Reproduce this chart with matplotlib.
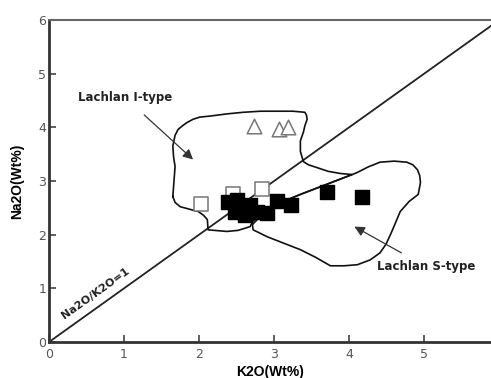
import matplotlib
matplotlib.use("Agg")
import matplotlib.pyplot as plt
import numpy as np

# open squares / triangles (I-type like samples), filled squares
open_sq_x = [2.03, 2.45, 2.84]
open_sq_y = [2.58, 2.75, 2.86]
tri_x = [2.73, 3.07, 3.19]
tri_y = [4.02, 3.96, 4.00]
fill_sq_x = [2.39, 2.51, 2.48, 2.55, 2.61, 2.68, 2.77, 2.91, 3.04, 3.23, 3.71, 4.17]
fill_sq_y = [2.60, 2.65, 2.43, 2.52, 2.37, 2.56, 2.43, 2.41, 2.62, 2.56, 2.80, 2.71]

itype_x = [1.65, 1.68, 1.66, 1.65, 1.68, 1.72, 1.78, 1.84, 1.92, 2.01, 2.15, 2.37, 2.59,
           2.82, 3.04, 3.25, 3.41, 3.43, 3.44, 3.41, 3.39, 3.35, 3.35, 3.39, 3.46, 3.57,
           3.72, 3.88, 4.04, 3.35, 2.95, 2.71, 2.68, 2.52, 2.37, 2.12, 2.11, 2.06, 1.99,
           1.75, 1.68, 1.65]
itype_y = [2.71, 3.27, 3.45, 3.65, 3.85, 3.96, 4.03, 4.09, 4.15, 4.19, 4.21, 4.25, 4.28,
           4.30, 4.30, 4.30, 4.28, 4.23, 4.15, 4.03, 3.91, 3.75, 3.55, 3.36, 3.30, 3.25,
           3.18, 3.14, 3.12, 2.75, 2.52, 2.24, 2.15, 2.08, 2.06, 2.09, 2.28, 2.36, 2.43,
           2.52, 2.60, 2.71]
stype_x = [2.71, 2.72, 2.91, 3.35, 3.55, 3.75, 3.93, 4.11, 4.28, 4.41, 4.49, 4.55, 4.62,
           4.68, 4.80, 4.92, 4.95, 4.94, 4.91, 4.85, 4.77, 4.60, 4.41, 4.25, 4.11, 4.04,
           3.35, 2.95, 2.71]
stype_y = [2.19, 2.09, 1.96, 1.72, 1.58, 1.42, 1.42, 1.44, 1.53, 1.66, 1.82, 2.00, 2.23,
           2.43, 2.62, 2.75, 2.97, 3.10, 3.21, 3.30, 3.35, 3.37, 3.35, 3.26, 3.16, 3.12,
           2.75, 2.52, 2.19]

fig = plt.figure(figsize=(4.91, 3.78), dpi=100)
ax = fig.add_axes([0.0998, 0.0952, 0.9002, 0.852])

ax.set_xlim(0, 5.89)
ax.set_ylim(0, 6)

# 1:1 line
ax.plot([0, 6], [0, 6], color="#222222", lw=1.3, clip_on=True)

ax.plot(itype_x, itype_y, color="#111111", lw=1.2)
ax.plot(stype_x, stype_y, color="#111111", lw=1.2)

ax.scatter(open_sq_x, open_sq_y, marker="s", s=95, facecolor="white",
           edgecolor="#777777", linewidth=1.1, zorder=3)
ax.scatter(tri_x, tri_y, marker="^", s=110, facecolor="white",
           edgecolor="#777777", linewidth=1.1, zorder=3)
ax.scatter(fill_sq_x, fill_sq_y, marker="s", s=100, color="black", zorder=4)

ax.annotate("Lachlan I-type", xy=(1.92, 3.40), xytext=(1.01, 4.56),
            ha="center", va="center", fontsize=8.5, fontweight="bold", color="#222222",
            arrowprops=dict(arrowstyle="-|>", color="#333333", lw=0.9,
                            mutation_scale=15, shrinkA=9, shrinkB=0))
ax.annotate("Lachlan S-type", xy=(4.07, 2.15), xytext=(5.03, 1.40),
            ha="center", va="center", fontsize=8.5, fontweight="bold", color="#222222",
            arrowprops=dict(arrowstyle="-|>", color="#333333", lw=0.9,
                            mutation_scale=15, shrinkA=7, shrinkB=0))
ax.text(0.62, 0.9, "Na2O/K2O=1", rotation=35.5, rotation_mode="anchor",
        ha="center", va="center", fontsize=8, fontweight="bold", color="#222222")

ax.spines["right"].set_visible(False)
ax.spines["left"].set_linewidth(2)
ax.spines["bottom"].set_linewidth(2)
ax.spines["left"].set_color("#333333")
ax.spines["bottom"].set_color("#333333")
ax.spines["top"].set_linewidth(1.5)
ax.spines["top"].set_color("#666666")

ax.set_xticks([0, 1, 2, 3, 4, 5])
ax.set_yticks([0, 1, 2, 3, 4, 5, 6])
ax.tick_params(direction="in", length=5, width=1.2, color="#444444",
               labelcolor="#555555", labelsize=9)
ax.tick_params(axis="x", pad=4)
ax.tick_params(axis="y", pad=2)
for lbl in ax.get_xticklabels() + ax.get_yticklabels():
    lbl.set_family(["Liberation Sans Narrow", "DejaVu Sans"])

ax.set_xlabel("K2O(Wt%)", fontsize=10, fontweight="bold", family="Liberation Sans",
              labelpad=3)
ax.set_ylabel("Na2O(Wt%)", fontsize=10, fontweight="bold", family="Liberation Sans",
              labelpad=10)

fig.savefig("out.png", dpi=100)
